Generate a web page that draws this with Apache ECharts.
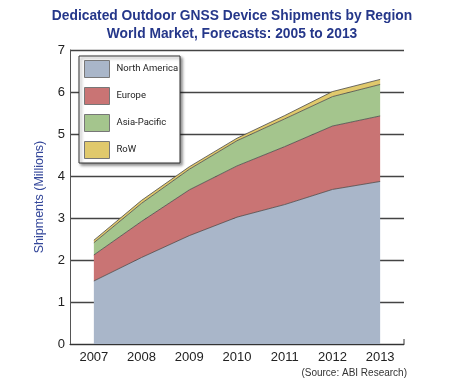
<!DOCTYPE html>
<html>
<head>
<meta charset="utf-8">
<script src="https://cdn.jsdelivr.net/npm/echarts@6/dist/echarts.min.js"></script>
<style>
html,body{margin:0;padding:0;background:#fff;}
#chart{width:450px;height:382px;}
</style>
</head>
<body>
<div id="chart"></div>
<script>
var years = ['2007', '2008', '2009', '2010', '2011', '2012', '2013'];
var northAmerica = [1.50, 2.06, 2.58, 3.02, 3.32, 3.68, 3.87];
var europe = [0.62, 0.86, 1.09, 1.22, 1.38, 1.51, 1.56];
var asiaPacific = [0.29, 0.43, 0.49, 0.60, 0.66, 0.70, 0.75];
var row = [0.06, 0.07, 0.06, 0.06, 0.08, 0.12, 0.12];
var yTicks = [0, 1, 2, 3, 4, 5, 6, 7];

var names = ['North America', 'Europe', 'Asia-Pacific', 'RoW'];
var colors = ['#a9b6c9', '#c97474', '#a4c58d', '#e0c96c'];
var dataSets = [northAmerica, europe, asiaPacific, row];

var chart = echarts.init(document.getElementById('chart'));
var series = dataSets.map(function (d, i) {
  return {
    name: names[i],
    type: 'line',
    stack: 'total',
    data: d,
    symbol: 'none',
    lineStyle: { color: '#4a4a4a', width: 0.8 },
    itemStyle: { color: colors[i], borderColor: '#666', borderWidth: 1 },
    areaStyle: { color: colors[i], opacity: 1 },
    z: 2
  };
});

chart.setOption({
  animation: false,
  backgroundColor: '#fff',
  grid: { left: 70, right: 46, top: 50, bottom: 38 },
  graphic: [
    { type: 'text', x: 232, y: 16, style: { text: 'Dedicated Outdoor GNSS Device Shipments by Region', fill: '#25378a', font: 'bold 13.8px "Liberation Sans", Arial, sans-serif', textAlign: 'center', textVerticalAlign: 'middle' } },
    { type: 'text', x: 232, y: 34, style: { text: 'World Market, Forecasts: 2005 to 2013', fill: '#25378a', font: 'bold 13.8px "Liberation Sans", Arial, sans-serif', textAlign: 'center', textVerticalAlign: 'middle' } },
    { type: 'text', x: 407, y: 373, style: { text: '(Source: ABI Research)', fill: '#333', font: '10px "Liberation Sans", Arial, sans-serif', textAlign: 'right', textVerticalAlign: 'middle' } },
    { type: 'rect', shape: { x: 79, y: 56, width: 101, height: 107 }, style: { fill: '#fff', stroke: '#333', lineWidth: 1, shadowBlur: 3, shadowOffsetX: 2, shadowOffsetY: 2, shadowColor: 'rgba(0,0,0,0.45)' }, z: 10 },
    { type: 'line', shape: { x1: 404, y1: 339, x2: 404, y2: 344 }, style: { stroke: '#333', lineWidth: 1 }, z: 10 }
  ],
  legend: {
    data: names,
    orient: 'vertical',
    left: 84,
    top: 60,
    padding: 0,
    itemWidth: 25,
    itemHeight: 17,
    itemGap: 9,
    icon: 'rect',
    itemStyle: { borderColor: '#777', borderWidth: 1 },
    textStyle: { color: '#222', fontSize: 9.5, fontFamily: 'Roboto, "Liberation Sans", sans-serif', padding: [0, 0, 0, 2] },
    z: 20
  },
  xAxis: {
    type: 'category',
    data: years,
    boundaryGap: true,
    axisLine: { lineStyle: { color: '#333', width: 1.2 } },
    axisTick: { show: false },
    axisLabel: { color: '#222', fontSize: 13, margin: 7, fontFamily: '"Liberation Sans", Arial, sans-serif' },
    splitLine: { show: false },
    z: 5
  },
  yAxis: {
    type: 'value',
    min: yTicks[0],
    max: yTicks[yTicks.length - 1],
    interval: 1,
    name: 'Shipments (Millions)',
    nameLocation: 'middle',
    nameGap: 24,
    nameTextStyle: { color: '#34479a', fontSize: 12.5, fontFamily: '"Liberation Sans", Arial, sans-serif' },
    axisLine: { show: true, lineStyle: { color: '#555', width: 1 } },
    axisTick: { show: false },
    axisLabel: { color: '#222', fontSize: 13, margin: 5, fontFamily: '"Liberation Sans", Arial, sans-serif' },
    splitLine: { show: true, lineStyle: { color: '#444', width: 1.3 } }
  },
  series: series
});
</script>
</body>
</html>
